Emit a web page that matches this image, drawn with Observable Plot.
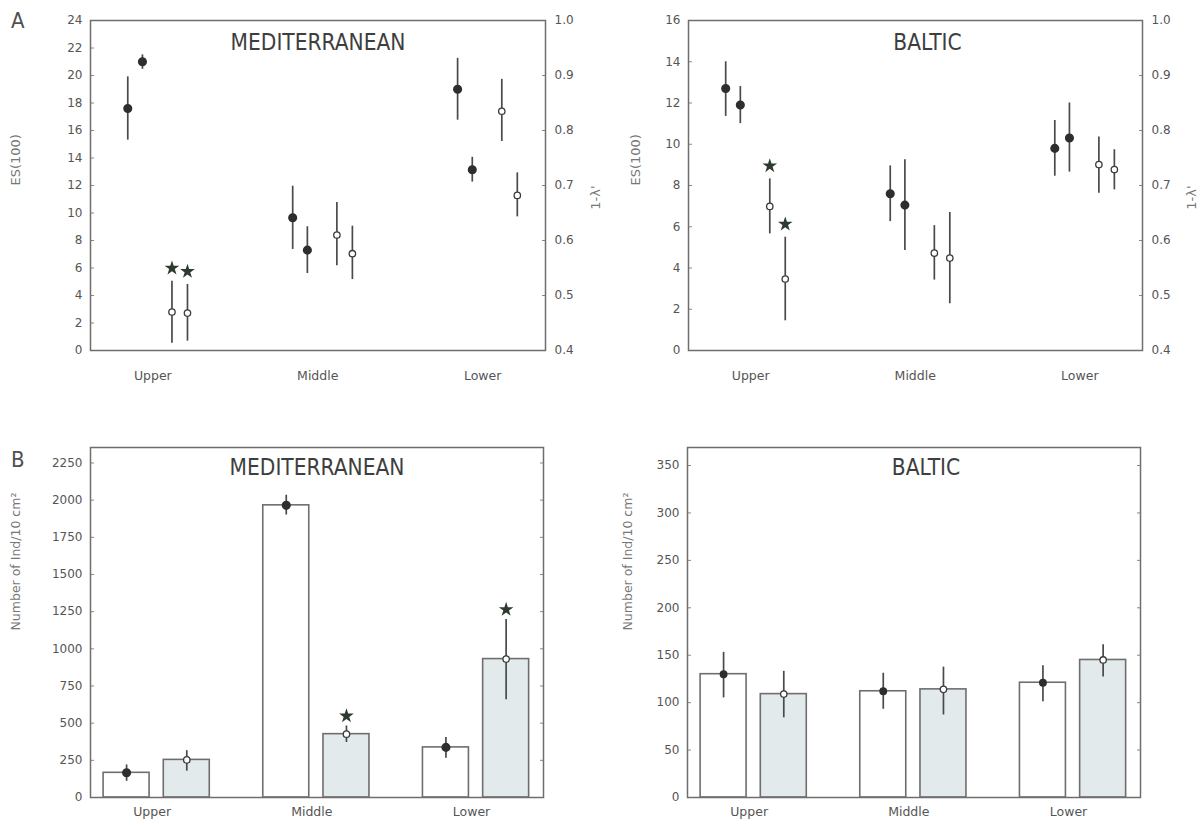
<!DOCTYPE html>
<html>
<head>
<meta charset="utf-8">
<script src="https://cdn.jsdelivr.net/npm/d3@7"></script>
<script src="https://cdn.jsdelivr.net/npm/@observablehq/plot@0.6"></script>
<style>
  body { margin: 0; background: #fff; }
  #wrap { position: relative; width: 1202px; height: 825px; overflow: hidden; background: #fff; }
  .panel { position: absolute; }
  .letter { position: absolute; font-family: "DejaVu Sans Condensed", "DejaVu Sans", sans-serif; font-size: 22px; color: #505050; }
</style>
</head>
<body>
<div id="wrap">
  <div class="letter" style="left:11px;top:8px;">A</div>
  <div class="letter" style="left:11px;top:447px;">B</div>
</div>
<script>
// ---------- data ----------
const regions = ["Upper", "Middle", "Lower"];

// Panel A – ES(100) (filled points), two samples per region, region-major order
const medESMean = [17.6, 21.0, 9.65, 7.3, 19.0, 13.15];
const medESLo   = [15.3, 20.45, 7.35, 5.6, 16.75, 12.25];
const medESHi   = [19.9, 21.5, 11.95, 9.0, 21.25, 14.05];
// Panel A – 1-λ' (open points)
const medLamMean = [0.470, 0.468, 0.610, 0.576, 0.835, 0.682];
const medLamLo   = [0.413, 0.417, 0.554, 0.529, 0.780, 0.643];
const medLamHi   = [0.526, 0.520, 0.669, 0.626, 0.893, 0.723];
const medLamSig  = [true, true, false, false, false, false];

const balESMean = [12.7, 11.9, 7.6, 7.05, 9.8, 10.3];
const balESLo   = [11.35, 11.0, 6.25, 4.85, 8.45, 8.65];
const balESHi   = [14.0, 12.8, 8.95, 9.25, 11.15, 12.0];
const balLamMean = [0.662, 0.530, 0.577, 0.568, 0.738, 0.729];
const balLamLo   = [0.612, 0.454, 0.528, 0.485, 0.686, 0.692];
const balLamHi   = [0.712, 0.606, 0.627, 0.651, 0.788, 0.765];
const balLamSig  = [true, true, false, false, false, false];

// Panel B – Number of Ind/10 cm² (white bars = filled dots, grey bars = open dots)
const medDensW   = [166, 1965, 337];
const medDensWLo = [109, 1900, 264];
const medDensWHi = [219, 2033, 403];
const medDensG   = [253, 426, 931];
const medDensGLo = [177, 370, 658];
const medDensGHi = [315, 481, 1197];
const medDensGSig = [false, true, true];

const balDensW   = [130, 112, 121];
const balDensWLo = [105, 93, 101];
const balDensWHi = [153, 131, 139];
const balDensG   = [109, 114, 145];
const balDensGLo = [84, 87, 127];
const balDensGHi = [133, 137.5, 161];
const balDensGSig = [false, false, false];

// tick labels
const medESTicks = [0, 2, 4, 6, 8, 10, 12, 14, 16, 18, 20, 22, 24];
const balESTicks = [0, 2, 4, 6, 8, 10, 12, 14, 16];
const lamTicks = [0.4, 0.5, 0.6, 0.7, 0.8, 0.9, 1.0];
const medDensTicks = [0, 250, 500, 750, 1000, 1250, 1500, 1750, 2000, 2250];
const balDensTicks = [0, 50, 100, 150, 200, 250, 300, 350];

// ---------- styling ----------
const TXT = "#555";
const FRAME = "#6e6e6e";
const DARK = "#2e2e2e";
const STAR = "#2d3a2f";
const GREYBAR = "#e3eaec";
const tickFont = '"DejaVu Sans", sans-serif';
const titleFont = '"DejaVu Sans Condensed", "DejaVu Sans", sans-serif';

const wrap = document.getElementById("wrap");
function place(svg, left, top) {
  const d = document.createElement("div");
  d.className = "panel";
  d.style.left = left + "px";
  d.style.top = top + "px";
  d.appendChild(svg);
  wrap.appendChild(d);
}

function commonAxes(ticks, rightTicks, rightFmt) {
  return [
    Plot.axisY(ticks, {anchor: "left", tickSize: 4, dx: 4, tickFormat: () => "", stroke: "#888", label: null}),
    Plot.axisY(ticks, {anchor: "left", tickSize: 0, tickPadding: 8, fontSize: 12, fill: TXT, tickFormat: d => String(d), label: null}),
    Plot.axisY(rightTicks, {anchor: "right", tickSize: 4, dx: -4, tickFormat: () => "", stroke: "#888", label: null}),
    rightFmt ? Plot.axisY(rightTicks, {anchor: "right", tickSize: 0, tickPadding: 9, fontSize: 12, fill: TXT, tickFormat: rightFmt, label: null}) : null
  ];
}

// ---------- panel A ----------
function topPanel(o) {
  const offFilled = [-0.152, -0.063];
  const offOpen = [0.116, 0.210];
  const toES = v => (v - 0.4) / 0.6 * o.esMax;
  const filled = regions.flatMap((r, i) => offFilled.map((off, j) => ({
    x: i + off, y: o.esMean[2 * i + j], lo: o.esLo[2 * i + j], hi: o.esHi[2 * i + j]
  })));
  const open = regions.flatMap((r, i) => offOpen.map((off, j) => ({
    x: i + off, y: toES(o.lamMean[2 * i + j]), lo: toES(o.lamLo[2 * i + j]),
    hi: toES(o.lamHi[2 * i + j]), sig: o.lamSig[2 * i + j]
  })));
  const lamPos = lamTicks.map(toES);
  const svg = Plot.plot({
    width: o.width, height: 400,
    marginLeft: o.ml, marginRight: o.mr, marginTop: 20, marginBottom: 50,
    style: {fontFamily: tickFont, background: "transparent", overflow: "visible"},
    x: {domain: [-0.378, 2.381]},
    y: {domain: [0, o.esMax]},
    marks: [
      ...commonAxes(o.ticks, lamPos, v => d3.format(".1f")(0.4 + v / o.esMax * 0.6)),
      Plot.axisX([0, 1, 2], {anchor: "bottom", tickSize: 0, tickPadding: 21, fontSize: 12.5, fill: TXT,
        tickFormat: i => regions[i], label: null}),
      Plot.frame({stroke: FRAME, strokeWidth: 1.5}),
      Plot.text([o.title], {frameAnchor: "top", dy: 22, dx: o.titleDx, fontSize: 22.5, fill: "#3e3e3e",
        fontFamily: titleFont, lineAnchor: "middle"}),
      Plot.text(["ES(100)"], {frameAnchor: "left", dx: o.labDx, rotate: -90, fontSize: 13, fill: "#777"}),
      Plot.text(["1-λ'"], {frameAnchor: "right", dx: o.labDxR, rotate: -90, fontSize: 13, fill: "#777"}),
      Plot.ruleX(filled, {x: "x", y1: "lo", y2: "hi", stroke: "#4a4a4a", strokeWidth: 1.7}),
      Plot.ruleX(open, {x: "x", y1: "lo", y2: "hi", stroke: "#4a4a4a", strokeWidth: 1.7}),
      Plot.dot(filled, {x: "x", y: "y", r: 3.8, fill: DARK, stroke: DARK}),
      Plot.dot(open, {x: "x", y: "y", r: 3.2, fill: "white", stroke: "#3a3a3a", strokeWidth: 1.3}),
      Plot.dot(open.filter(d => d.sig), {x: "x", y: "hi", dy: -13, symbol: "star", r: 4.6, fill: STAR})
    ]
  });
  place(svg, o.left, 0);
}

topPanel({title: "MEDITERRANEAN", esMax: 24, ticks: medESTicks, esMean: medESMean, esLo: medESLo, esHi: medESHi,
  lamMean: medLamMean, lamLo: medLamLo, lamHi: medLamHi, lamSig: medLamSig,
  width: 600, left: 0, ml: 90, mr: 55, titleDx: 0, labDx: -75, labDxR: 50});
topPanel({title: "BALTIC", esMax: 16, ticks: balESTicks, esMean: balESMean, esLo: balESLo, esHi: balESHi,
  lamMean: balLamMean, lamLo: balLamLo, lamHi: balLamHi, lamSig: balLamSig,
  width: 602, left: 600, ml: 88, mr: 60, titleDx: 12, labDx: -53, labDxR: 49});

// ---------- panel B ----------
function bottomPanel(o) {
  const offW = -0.16, offG = 0.217, hw = 0.144;
  const white = regions.map((r, i) => ({x: i + offW, y: o.w[i], lo: o.wLo[i], hi: o.wHi[i]}));
  const grey = regions.map((r, i) => ({x: i + offG, y: o.g[i], lo: o.gLo[i], hi: o.gHi[i], sig: o.gSig[i]}));
  const svg = Plot.plot({
    width: o.width, height: 405,
    marginLeft: o.ml, marginRight: o.mr, marginTop: 27, marginBottom: 28,
    style: {fontFamily: tickFont, background: "transparent", overflow: "visible"},
    x: {domain: [-0.386, 2.451]},
    y: {domain: [0, o.yMax]},
    marks: [
      ...commonAxes(o.ticks, o.ticks, null),
      Plot.axisX([0, 1, 2], {anchor: "bottom", tickSize: 0, tickPadding: 10, fontSize: 12.5, fill: TXT,
        tickFormat: i => regions[i], label: null}),
      Plot.rectY(white, {x1: d => d.x - hw, x2: d => d.x + hw, y: "y", fill: "white", stroke: FRAME, strokeWidth: 1.6}),
      Plot.rectY(grey, {x1: d => d.x - hw, x2: d => d.x + hw, y: "y", fill: GREYBAR, stroke: FRAME, strokeWidth: 1.6}),
      Plot.frame({stroke: FRAME, strokeWidth: 1.5}),
      Plot.text([o.title], {frameAnchor: "top", dy: 20, dx: o.titleDx, fontSize: 22.5, fill: "#3e3e3e",
        fontFamily: titleFont, lineAnchor: "middle"}),
      Plot.text(["Number of Ind/10 cm²"], {frameAnchor: "left", dx: o.labDx, dy: 8, rotate: -90, fontSize: 12.5, fill: "#777"}),
      Plot.ruleX(white, {x: "x", y1: "lo", y2: "hi", stroke: "#4a4a4a", strokeWidth: 1.7}),
      Plot.ruleX(grey, {x: "x", y1: "lo", y2: "hi", stroke: "#4a4a4a", strokeWidth: 1.7}),
      Plot.dot(white, {x: "x", y: "y", r: o.dotR, fill: DARK, stroke: DARK}),
      Plot.dot(grey, {x: "x", y: "y", r: 3.2, fill: "white", stroke: "#3a3a3a", strokeWidth: 1.3}),
      Plot.dot(grey.filter(d => d.sig), {x: "x", y: "hi", dy: -10, symbol: "star", r: 4.6, fill: STAR})
    ]
  });
  place(svg, o.left, 420);
}

bottomPanel({title: "MEDITERRANEAN", yMax: 2354, ticks: medDensTicks,
  w: medDensW, wLo: medDensWLo, wHi: medDensWHi, g: medDensG, gLo: medDensGLo, gHi: medDensGHi, gSig: medDensGSig,
  width: 600, left: 0, ml: 90, mr: 57, titleDx: 0, labDx: -75, dotR: 3.8});
bottomPanel({title: "BALTIC", yMax: 369, ticks: balDensTicks,
  w: balDensW, wLo: balDensWLo, wHi: balDensWHi, g: balDensG, gLo: balDensGLo, gHi: balDensGHi, gSig: balDensGSig,
  width: 602, left: 600, ml: 87, mr: 62, titleDx: 12, labDx: -60, dotR: 3.2});
</script>
</body>
</html>
